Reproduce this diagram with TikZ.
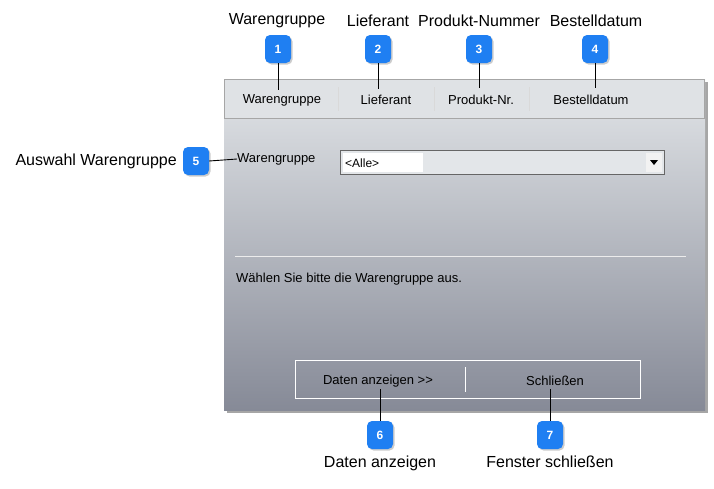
\documentclass[tikz,border=0pt]{standalone}
\usepackage{fontspec}
\setmainfont{Liberation Sans}
\usetikzlibrary{shadows}
\definecolor{badge}{HTML}{1F7FF2}
\definecolor{wtop}{HTML}{E2E5E8}
\definecolor{wbot}{HTML}{868A97}
\definecolor{hdr}{HTML}{DFE2E5}
\definecolor{combo}{HTML}{E3E6E9}
\begin{document}
\begin{tikzpicture}[x=1pt,y=-1pt,
  badgebox/.style={fill=badge,text=white,rounded corners=5pt,minimum width=26pt,minimum height=28pt,font=\bfseries\fontsize{12}{13}\selectfont,inner sep=0pt,
    drop shadow={shadow xshift=1.5pt,shadow yshift=-1.5pt,fill=black!40}},
  lbl/.style={font=\fontsize{16}{18}\selectfont,inner sep=0pt},
  ui/.style={font=\fontsize{13}{15}\selectfont,inner sep=0pt},
  conn/.style={draw=black,line width=0.9pt}]
\useasboundingbox (0,0) rectangle (714,488);
% window
\fill[black!35] (227,82) rectangle (708,413);
\shade[top color=wtop,bottom color=wbot] (224,79) rectangle (705,410);
\fill[hdr] (224,79) rectangle (705,118);
\draw[gray!70] (224.5,79.5) rectangle (704.5,118);
\foreach \x in {338,434,529} \draw[white!70!gray,line width=1pt] (\x,87)--(\x,111);
\node[ui] (h1) at (282,100) {Warengruppe};
\node[ui] (h2) at (386,100) {Lieferant};
\node[ui] (h3) at (481,100) {Produkt-Nr.};
\node[ui] (h4) at (591,100) {Bestelldatum};
\node[ui,anchor=west] (wg) at (237,159) {Warengruppe};
\fill[combo] (340,150) rectangle (664,174);
\draw[gray!80!black] (340,150) rectangle (664,174);
\fill[white] (343,153) rectangle (423,172);
\node[ui,anchor=west,font=\fontsize{12}{14}\selectfont] (alle) at (345,163) {<Alle>};
\fill[white!90!gray] (646,153) rectangle (662,172);
\fill[black] (650,160) -- (658,160) -- (654,165) -- cycle;
\draw[white!85!gray] (235,256) -- (686,256);
\node[ui,anchor=west] (msg) at (236,279) {Wählen Sie bitte die Warengruppe aus.};
\draw[white,line width=1pt] (295,360) rectangle (640,398);
\draw[white,line width=1pt] (465,367) -- (465,392);
\node[ui] (b1) at (378,381) {Daten anzeigen >{}>};
\node[ui] (b2) at (555,381) {Schließen};
% badges
\node[badgebox] (n1) at (278,49) {1};
\node[badgebox] (n2) at (378,49) {2};
\node[badgebox] (n3) at (479,49) {3};
\node[badgebox] (n4) at (595,49) {4};
\node[badgebox] (n5) at (196,161) {5};
\node[badgebox] (n6) at (380,435) {6};
\node[badgebox] (n7) at (550,435) {7};
\coordinate (c1) at (278,90); \coordinate (c2) at (378,89);
\coordinate (c3) at (479,88); \coordinate (c4) at (595,88);
\coordinate (c6) at (380,389); \coordinate (c7) at (550,389);
\draw[conn] (n1) -- (c1); \draw[conn] (n2) -- (c2);
\draw[conn] (n3) -- (c3); \draw[conn] (n4) -- (c4);
\draw[conn] (n5.east) -- (wg.west);
\draw[conn] (n6) -- (c6); \draw[conn] (n7) -- (c7);
\node[lbl] at (277,21) {Warengruppe};
\node[lbl] at (378,21) {Lieferant};
\node[lbl] at (479,21) {Produkt-Nummer};
\node[lbl] at (596,21) {Bestelldatum};
\node[lbl,anchor=east] at (177,161) {Auswahl Warengruppe};
\node[lbl] at (380,463) {Daten anzeigen};
\node[lbl] at (550,462) {Fenster schließen};
\end{tikzpicture}
\end{document}
